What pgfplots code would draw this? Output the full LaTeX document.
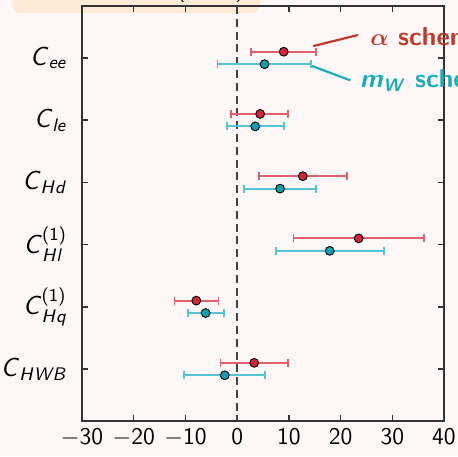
\documentclass[border=0pt]{standalone}
\usepackage{amsmath}
\usepackage{pgfplots}
\pgfplotsset{compat=1.18}

\definecolor{bgpink}{HTML}{FDF8F7}
\definecolor{peach}{HTML}{FDEBD8}
\definecolor{redfill}{HTML}{D0283A}
\definecolor{redbar}{HTML}{E0606E}
\definecolor{cyanfill}{HTML}{12A0B0}
\definecolor{cyanbar}{HTML}{55C4D4}
\definecolor{redlab}{HTML}{C0392B}
\definecolor{cyanlab}{HTML}{1AABBC}
\definecolor{frame}{HTML}{333333}

\newcommand{\si}[1]{\textsf{\textit{#1}}}
\newcommand{\sub}[1]{\textsf{\textit{#1}}}
\newcommand{\gap}{\kern0.6pt}

\begin{document}
\begin{tikzpicture}
% page: 458x456 px at 0.5pt per px, axis box lower-left at (0,0)
\useasboundingbox (-41pt,-17.5pt) rectangle (188pt,210.5pt);
\clip (-41pt,-17.5pt) rectangle (188pt,210.5pt);
\fill[bgpink] (-41pt,-17.5pt) rectangle (188pt,210.5pt);
\fill[peach, rounded corners=4pt] (-35pt,204pt) rectangle (89pt,230pt);
\node[anchor=base, font=\fontsize{12}{14}\selectfont\sffamily] at (49.5pt,212pt) {(};
\node[anchor=base, font=\fontsize{12}{14}\selectfont\sffamily] at (79pt,212pt) {)};

\begin{axis}[
  scale only axis,
  width=181pt, height=207.5pt,
  xmin=-30, xmax=40,
  ymin=-0.835, ymax=5.835,
  y dir=reverse,
  xtick={-30,-20,...,40},
  xticklabels={{$-$30},{$-$20},{$-$10},0,10,20,30,40},
  ytick={0,1,2,3,4,5},
  yticklabels={
    {$\si{C}_{\sub{ee}}$},
    {$\si{C}_{\sub{le}}$},
    {$\si{C}_{\sub{H\gap d}}$},
    {$\si{C}^{\textsf{(1)}}_{\sub{H\gap l}}$},
    {$\si{C}^{\textsf{(1)}}_{\sub{H\gap q}}$},
    {$\si{C}_{\sub{H\gap W\gap B}}$}},
  tick label style={font=\fontsize{12}{14}\selectfont\sffamily},
  yticklabel style={font=\fontsize{13}{15}\selectfont\sffamily, xshift=-4pt},
  tick align=inside,
  tick pos=both,
  major tick length=3pt,
  axis line style={frame, line width=0.8pt},
  every tick/.style={frame, line width=0.7pt},
  clip=false,
  axis background/.style={},
]
\draw[black!75, dash pattern=on 4pt off 2.4pt, line width=1pt]
  (axis cs:0,-0.835) -- (axis cs:0,5.835);

% alpha scheme
\addplot+[only marks, mark=*, mark size=2.2pt,
  mark options={fill=redfill, draw=black, line width=0.45pt},
  error bars/.cd, x dir=both, x explicit,
  error bar style={redbar, line width=0.9pt},
  error mark options={rotate=90, mark size=2pt, redbar, line width=0.9pt}]
coordinates {
  (9.0,-0.1)  += (6.3,0)  -= (6.3,0)
  (4.45,0.9)  += (5.45,0) -= (5.65,0)
  (12.7,1.9)  += (8.5,0)  -= (8.4,0)
  (23.5,2.9)  += (12.7,0) -= (12.6,0)
  (-7.9,3.9)  += (4.3,0)  -= (4.2,0)
  (3.3,4.9)   += (6.6,0)  -= (6.5,0)
};

% m_W scheme
\addplot+[only marks, mark=*, mark size=2.2pt,
  mark options={fill=cyanfill, draw=black, line width=0.45pt},
  error bars/.cd, x dir=both, x explicit,
  error bar style={cyanbar, line width=0.9pt},
  error mark options={rotate=90, mark size=2pt, cyanbar, line width=0.9pt}]
coordinates {
  (5.3,0.1)   += (9.0,0)  -= (9.1,0)
  (3.5,1.1)   += (5.6,0)  -= (5.5,0)
  (8.3,2.1)   += (6.9,0)  -= (6.9,0)
  (17.9,3.1)  += (10.5,0) -= (10.4,0)
  (-6.1,4.1)  += (3.6,0)  -= (3.4,0)
  (-2.4,5.1)  += (7.8,0)  -= (7.8,0)
};

\draw[redlab, line width=1.1pt] (axis cs:14.7,-0.19) -- (axis cs:23.4,-0.37);
\draw[cyanlab, line width=1.1pt] (axis cs:14.5,0.13) -- (axis cs:21.9,0.36);
\node[anchor=west, inner sep=0pt, text=redlab, font=\fontsize{13}{15}\selectfont\sffamily\bfseries]
  at (axis cs:25.7,-0.34) {$\boldsymbol{\alpha}$ scheme};
\node[anchor=west, inner sep=0pt, text=cyanlab, font=\fontsize{13}{15}\selectfont\sffamily\bfseries]
  at (axis cs:23.7,0.36) {\textit{m}$_{\textsf{\textit{W}}}$ scheme};
\end{axis}
\end{tikzpicture}
\end{document}
